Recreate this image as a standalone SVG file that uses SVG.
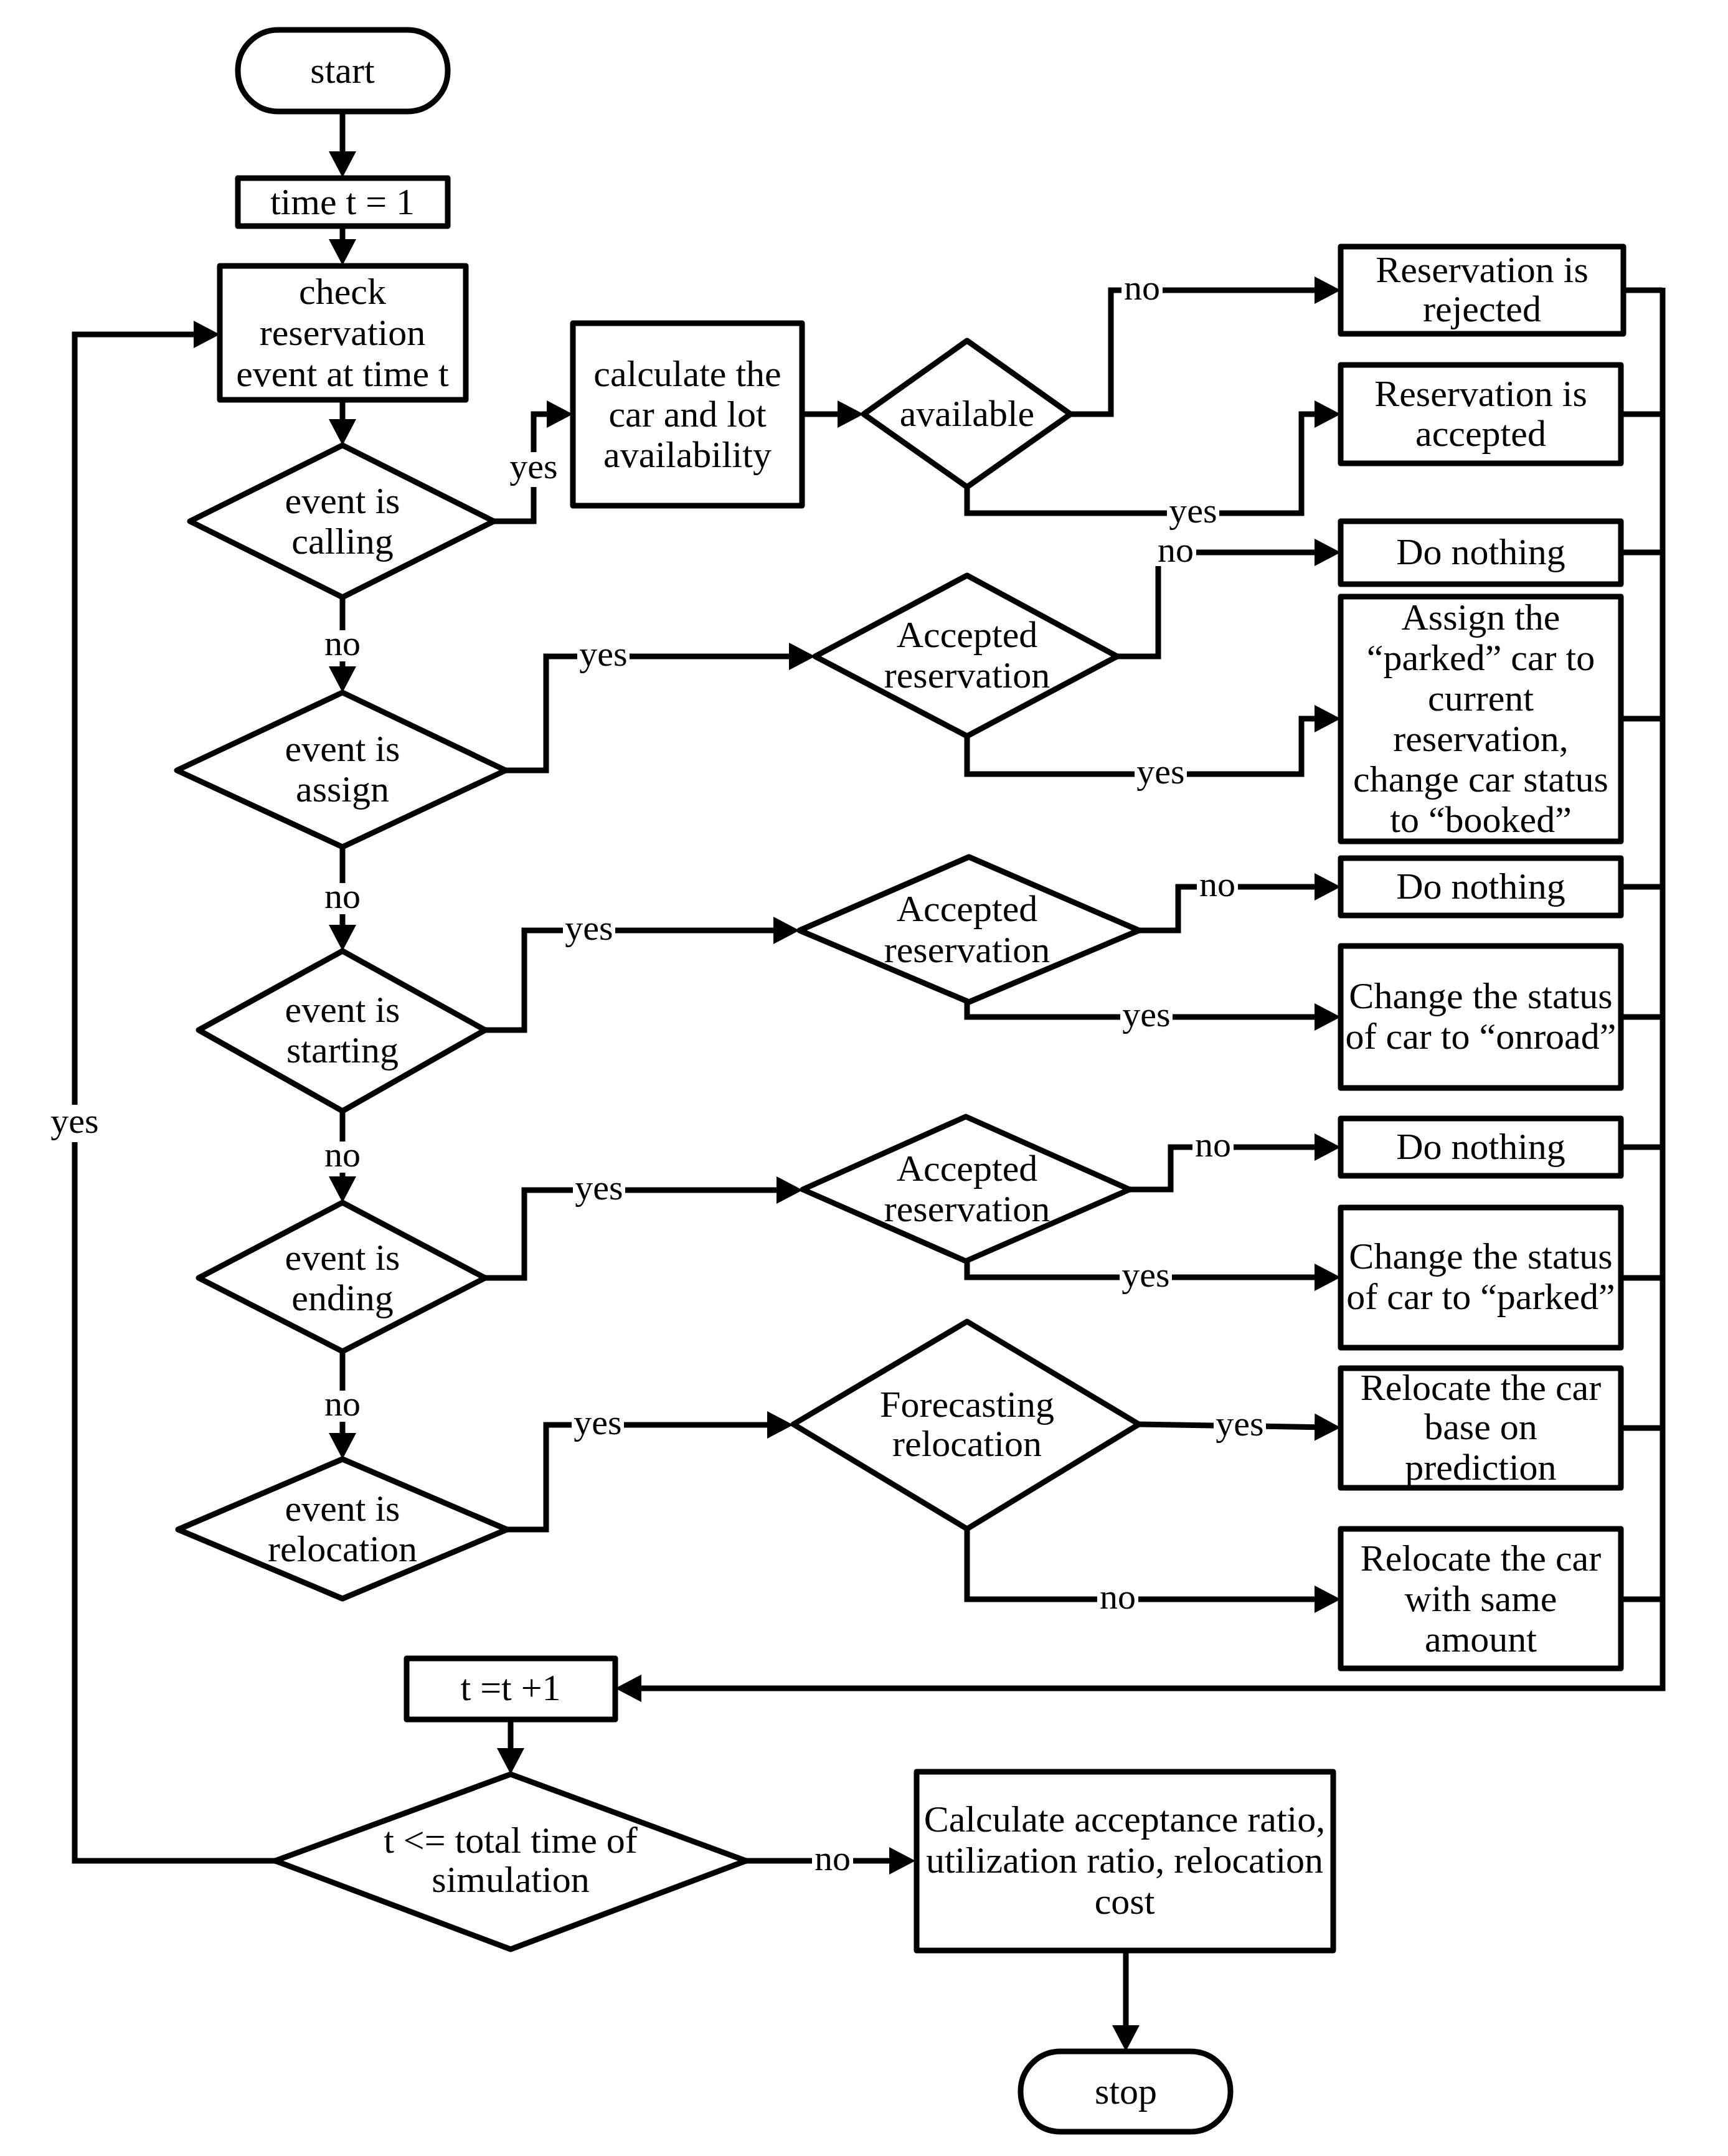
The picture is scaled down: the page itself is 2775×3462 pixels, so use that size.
<svg xmlns="http://www.w3.org/2000/svg" width="2775" height="3462" viewBox="0 0 2775 3462">
<style>
.shape{fill:#fff;stroke:#000;stroke-width:9;stroke-linejoin:round}
.con{fill:none;stroke:#000;stroke-width:9;stroke-linejoin:miter}
.arr{marker-end:url(#ah)}
.t{font-family:"Liberation Serif","Times New Roman",serif;font-size:60px;fill:#000;text-anchor:middle}
.lb{font-family:"Liberation Serif","Times New Roman",serif;font-size:58px;fill:#000;text-anchor:middle}
.bg{fill:#fff;stroke:none}
</style>
<defs>
<marker id="ah" markerUnits="userSpaceOnUse" markerWidth="42" markerHeight="44" refX="20" refY="22" orient="auto">
<path d="M0,0 L42,22 L0,44 z" fill="#000"/>
</marker>
</defs>
<rect width="2775" height="3462" fill="#fff"/>

<g id="connectors">
<path class="con arr" d="M550,179 V263"/>
<path class="con arr" d="M550,363 V404"/>
<path class="con arr" d="M550,642 V693"/>
<path class="con arr" d="M550,959 V1090"/>
<path class="con arr" d="M550,1360 V1505"/>
<path class="con arr" d="M550,1784 V1909"/>
<path class="con arr" d="M550,2170 V2321"/>
<path class="con arr" d="M793,837 H857 V665 H898"/>
<path class="con arr" d="M1288,665 H1365"/>
<path class="con arr" d="M1719,665 H1784 V466 H2131"/>
<path class="con arr" d="M1553,782 V824 H2090 V665 H2131"/>
<path class="con arr" d="M812,1237 H877 V1054 H1287"/>
<path class="con arr" d="M1794,1054 H1860 V887 H2131"/>
<path class="con arr" d="M1553,1182 V1243 H2090 V1154 H2131"/>
<path class="con arr" d="M779,1654 H842 V1494 H1262"/>
<path class="con arr" d="M1829,1494 H1892 V1424 H2131"/>
<path class="con arr" d="M1553,1609 V1633 H2131"/>
<path class="con arr" d="M779,2052 H842 V1911 H1267"/>
<path class="con arr" d="M1814,1910 H1880 V1842 H2131"/>
<path class="con arr" d="M1553,2025 V2051 H2131"/>
<path class="con arr" d="M814,2456 H877 V2288 H1252"/>
<path class="con arr" d="M1829,2287 L2131,2292"/>
<path class="con arr" d="M1553,2455 V2568 H2131"/>
<path class="con" d="M2605,466 H2670 M2605,665 H2670 M2605,887 H2670 M2605,1154 H2670 M2605,1424 H2670 M2605,1633 H2670 M2605,1842 H2670 M2605,2052 H2670 M2605,2293 H2670 M2605,2568 H2670"/>
<path class="con arr" d="M2670,462 V2711 H1010"/>
<path class="con arr" d="M820,2761 V2827"/>
<path class="con arr" d="M442,2988 H120 V537 H331"/>
<path class="con arr" d="M1198,2988 H1448"/>
<path class="con arr" d="M1808,3132 V3272"/>

<g id="labels">
<rect class="bg" x="512" y="1012" width="76" height="50"/><text class="lb" x="550" y="1052">no</text>
<rect class="bg" x="512" y="1418" width="76" height="50"/><text class="lb" x="550" y="1458">no</text>
<rect class="bg" x="512" y="1833" width="76" height="50"/><text class="lb" x="550" y="1873">no</text>
<rect class="bg" x="512" y="2233" width="76" height="50"/><text class="lb" x="550" y="2273">no</text>
<rect class="bg" x="811" y="726" width="92" height="56"/><text class="lb" x="857" y="768">yes</text>
<rect class="bg" x="1801" y="444" width="66" height="44"/><text class="lb" x="1834" y="481">no</text>
<rect class="bg" x="1874" y="802" width="84" height="44"/><text class="lb" x="1916" y="839">yes</text>
<rect class="bg" x="927" y="1032" width="84" height="44"/><text class="lb" x="969" y="1069">yes</text>
<rect class="bg" x="1855" y="865" width="66" height="44"/><text class="lb" x="1888" y="902">no</text>
<rect class="bg" x="1822" y="1221" width="84" height="44"/><text class="lb" x="1864" y="1258">yes</text>
<rect class="bg" x="904" y="1472" width="84" height="44"/><text class="lb" x="946" y="1509">yes</text>
<rect class="bg" x="1922" y="1402" width="66" height="44"/><text class="lb" x="1955" y="1439">no</text>
<rect class="bg" x="1799" y="1611" width="84" height="44"/><text class="lb" x="1841" y="1648">yes</text>
<rect class="bg" x="920" y="1889" width="84" height="44"/><text class="lb" x="962" y="1926">yes</text>
<rect class="bg" x="1915" y="1820" width="66" height="44"/><text class="lb" x="1948" y="1857">no</text>
<rect class="bg" x="1798" y="2029" width="84" height="44"/><text class="lb" x="1840" y="2066">yes</text>
<rect class="bg" x="918" y="2266" width="84" height="44"/><text class="lb" x="960" y="2303">yes</text>
<rect class="bg" x="1949" y="2268" width="84" height="44"/><text class="lb" x="1991" y="2305">yes</text>
<rect class="bg" x="1762" y="2546" width="66" height="44"/><text class="lb" x="1795" y="2583">no</text>
<rect class="bg" x="78" y="1774" width="84" height="60"/><text class="lb" x="120" y="1819">yes</text>
<rect class="bg" x="1304" y="2966" width="66" height="44"/><text class="lb" x="1337" y="3003">no</text>
</g>
</g>

<g id="start"><rect class="shape" x="382" y="48" width="337" height="131" rx="65"/><text class="t" x="550" y="133">start</text></g>
<g id="init"><rect class="shape" x="382" y="286" width="337" height="77"/><text class="t" x="550" y="344">time t = 1</text></g>
<g id="check"><rect class="shape" x="353" y="427" width="395" height="215"/><text class="t" x="550" y="488">check</text><text class="t" x="550" y="554">reservation</text><text class="t" x="550" y="620">event at time t</text></g>
<g id="calc"><rect class="shape" x="920" y="519" width="368" height="293"/><text class="t" x="1104" y="620">calculate the</text><text class="t" x="1104" y="685">car and lot</text><text class="t" x="1104" y="750">availability</text></g>

<g id="d-calling"><polygon class="shape" points="550,715 793,837 550,959 305,837"/><text class="t" x="550" y="824">event is</text><text class="t" x="550" y="889">calling</text></g>
<g id="d-assign"><polygon class="shape" points="550,1112 812,1237 550,1360 284,1237"/><text class="t" x="550" y="1222">event is</text><text class="t" x="550" y="1287">assign</text></g>
<g id="d-starting"><polygon class="shape" points="550,1527 779,1654 550,1784 319,1654"/><text class="t" x="550" y="1641">event is</text><text class="t" x="550" y="1706">starting</text></g>
<g id="d-ending"><polygon class="shape" points="550,1931 779,2052 550,2170 319,2052"/><text class="t" x="550" y="2039">event is</text><text class="t" x="550" y="2104">ending</text></g>
<g id="d-relocation"><polygon class="shape" points="550,2343 814,2456 550,2567 286,2456"/><text class="t" x="550" y="2442">event is</text><text class="t" x="550" y="2507">relocation</text></g>

<g id="d-available"><polygon class="shape" points="1553,547 1719,665 1553,782 1387,665"/><text class="t" x="1553" y="684">available</text></g>
<g id="d-acc1"><polygon class="shape" points="1553,924 1794,1054 1553,1182 1309,1054"/><text class="t" x="1553" y="1039">Accepted</text><text class="t" x="1553" y="1104">reservation</text></g>
<g id="d-acc2"><polygon class="shape" points="1556,1376 1829,1494 1556,1609 1284,1494"/><text class="t" x="1553" y="1479">Accepted</text><text class="t" x="1553" y="1545">reservation</text></g>
<g id="d-acc3"><polygon class="shape" points="1551,1793 1814,1910 1551,2025 1289,1910"/><text class="t" x="1553" y="1896">Accepted</text><text class="t" x="1553" y="1961">reservation</text></g>
<g id="d-forecast"><polygon class="shape" points="1553,2122 1829,2287 1553,2455 1274,2287"/><text class="t" x="1553" y="2275">Forecasting</text><text class="t" x="1553" y="2338">relocation</text></g>

<g id="rejected"><rect class="shape" x="2153" y="396" width="454" height="140"/><text class="t" x="2380" y="453">Reservation is</text><text class="t" x="2380" y="516">rejected</text></g>
<g id="accepted"><rect class="shape" x="2153" y="586" width="450" height="158"/><text class="t" x="2378" y="652">Reservation is</text><text class="t" x="2378" y="716">accepted</text></g>
<g id="nothing1"><rect class="shape" x="2153" y="837" width="450" height="101"/><text class="t" x="2378" y="906">Do nothing</text></g>
<g id="assignbox"><rect class="shape" x="2153" y="958" width="450" height="393"/><text class="t" x="2378" y="1011">Assign the</text><text class="t" x="2378" y="1076">“parked” car to</text><text class="t" x="2378" y="1141">current</text><text class="t" x="2378" y="1206">reservation,</text><text class="t" x="2378" y="1271">change car status</text><text class="t" x="2378" y="1336">to “booked”</text></g>
<g id="nothing2"><rect class="shape" x="2153" y="1378" width="450" height="92"/><text class="t" x="2378" y="1443">Do nothing</text></g>
<g id="onroad"><rect class="shape" x="2153" y="1519" width="450" height="228"/><text class="t" x="2378" y="1619">Change the status</text><text class="t" x="2378" y="1684">of car to “onroad”</text></g>
<g id="nothing3"><rect class="shape" x="2153" y="1796" width="450" height="92"/><text class="t" x="2378" y="1861">Do nothing</text></g>
<g id="parked"><rect class="shape" x="2153" y="1939" width="450" height="225"/><text class="t" x="2378" y="2037">Change the status</text><text class="t" x="2378" y="2102">of car to “parked”</text></g>
<g id="relpred"><rect class="shape" x="2153" y="2197" width="450" height="192"/><text class="t" x="2378" y="2248">Relocate the car</text><text class="t" x="2378" y="2311">base on</text><text class="t" x="2378" y="2376">prediction</text></g>
<g id="relsame"><rect class="shape" x="2153" y="2455" width="450" height="224"/><text class="t" x="2378" y="2522">Relocate the car</text><text class="t" x="2378" y="2587">with same</text><text class="t" x="2378" y="2652">amount</text></g>

<g id="increment"><rect class="shape" x="653" y="2663" width="335" height="98"/><text class="t" x="820" y="2730">t =t +1</text></g>
<g id="d-final"><polygon class="shape" points="820,2849 1198,2988 820,3130 442,2988"/><text class="t" x="820" y="2975">t &lt;= total time of</text><text class="t" x="820" y="3038">simulation</text></g>
<g id="results"><rect class="shape" x="1472" y="2845" width="669" height="287"/><text class="t" x="1806" y="2941">Calculate acceptance ratio,</text><text class="t" x="1806" y="3007">utilization ratio, relocation</text><text class="t" x="1806" y="3073">cost</text></g>
<g id="stop"><rect class="shape" x="1639" y="3294" width="337" height="129" rx="64"/><text class="t" x="1808" y="3378">stop</text></g>
</svg>
